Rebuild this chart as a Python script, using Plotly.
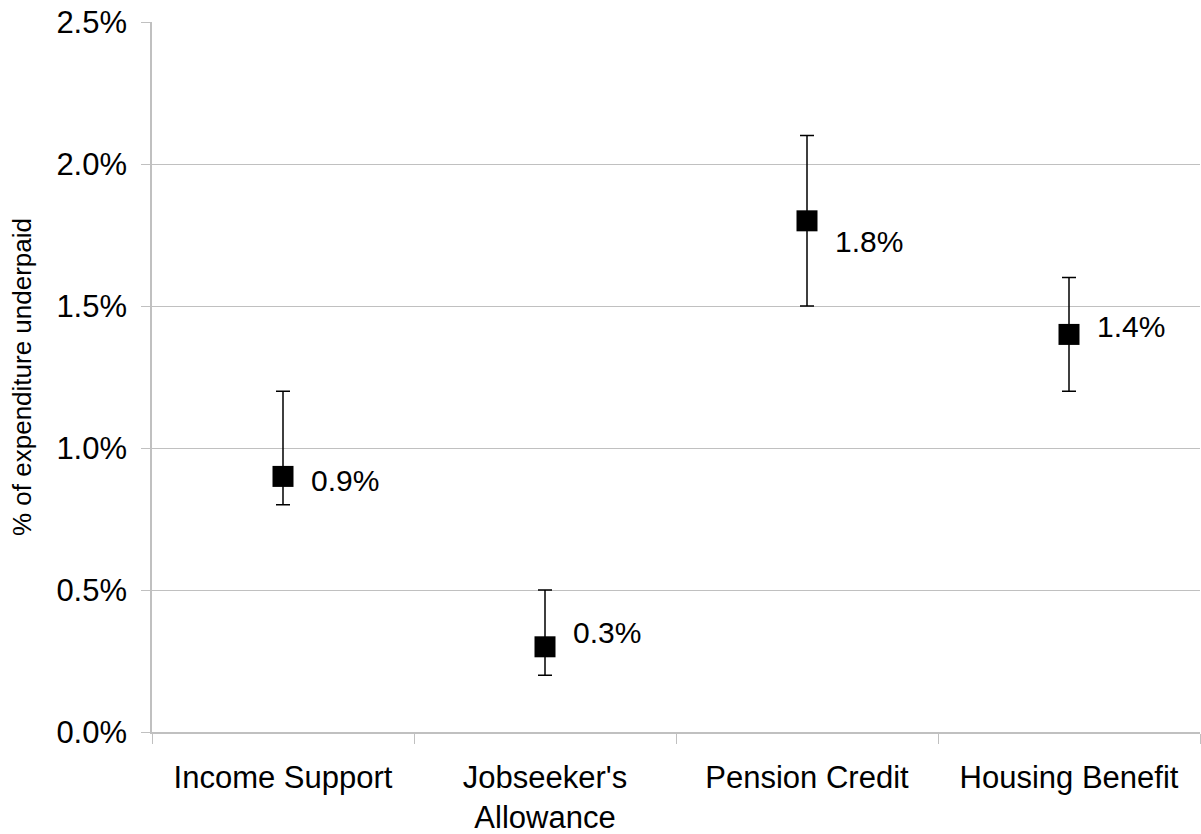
import plotly.graph_objects as go

categories = ["Income Support", "Jobseeker's<br>Allowance", "Pension Credit", "Housing Benefit"]
values = [0.9, 0.3, 1.8, 1.4]
upper = [1.2, 0.5, 2.1, 1.6]
lower = [0.8, 0.2, 1.5, 1.2]
labels = ["0.9%", "0.3%", "1.8%", "1.4%"]
y_ticks = [0.0, 0.5, 1.0, 1.5, 2.0, 2.5]

# label placement style (pixel nudges, as in the original chart)
label_yshift = [-4, 14, -21, 8]

err_plus = [u - v for u, v in zip(upper, values)]
err_minus = [v - l for v, l in zip(values, lower)]

FONT = "Liberation Sans, Arial, sans-serif"

fig = go.Figure()
fig.add_trace(go.Scatter(
    x=categories, y=values,
    mode="markers",
    marker=dict(symbol="square", size=21, color="black"),
    error_y=dict(type="data", symmetric=False, array=err_plus, arrayminus=err_minus,
                 color="black", thickness=1.5, width=7),
    cliponaxis=False,
    showlegend=False,
    hoverinfo="skip",
))

for c, v, t, dy in zip(categories, values, labels, label_yshift):
    fig.add_annotation(x=c, y=v, text=t, showarrow=False, xanchor="left", yanchor="middle",
                       xshift=26, yshift=dy, font=dict(family=FONT, size=30, color="black"))

fig.update_layout(
    width=1201, height=834,
    margin=dict(l=152, r=1, t=22, b=102),
    paper_bgcolor="white", plot_bgcolor="white",
    font=dict(family=FONT, color="black"),
    xaxis=dict(
        type="category", tickson="boundaries", ticks="outside", ticklen=10,
        tickcolor="#c0c0c0", showline=True, linecolor="#c0c0c0", linewidth=1.5,
        showgrid=False, tickfont=dict(size=31), ticklabelstandoff=17,
        range=[-0.5, 3.5], automargin=False,
    ),
    yaxis=dict(
        range=[0, 2.5001], tickvals=y_ticks, ticktext=[f"{v:.1f}%" for v in y_ticks],
        ticks="outside", ticklen=9, tickcolor="#c0c0c0",
        showline=True, linecolor="#c0c0c0", linewidth=1.5,
        showgrid=True, gridcolor="#c0c0c0", gridwidth=1,
        zeroline=False, tickfont=dict(size=31), ticklabelstandoff=8,
        ticklabeloverflow="allow",
        automargin=False,
        title=dict(text="% of expenditure underpaid", font=dict(size=26), standoff=17),
    ),
)

# remove the browser's default 8px body margin so the figure fills the window exactly
fig.write_html("out.html", config={"displayModeBar": False},
               post_script="document.body.style.margin='0px';")
